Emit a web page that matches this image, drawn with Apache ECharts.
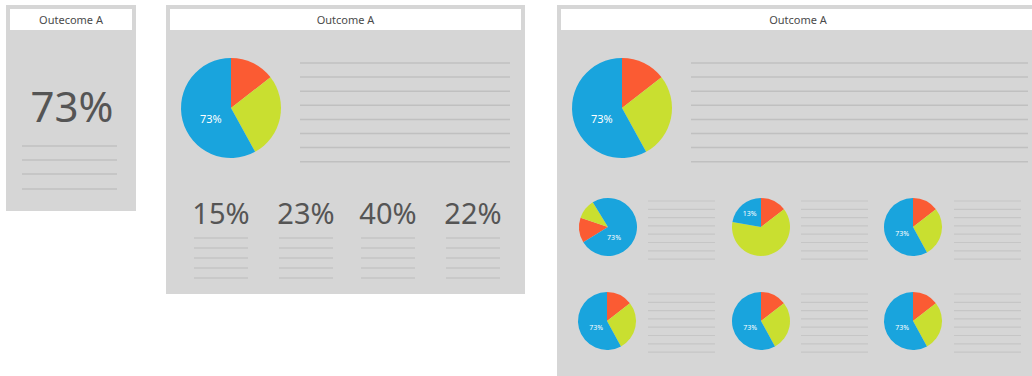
<!DOCTYPE html>
<html><head><meta charset="utf-8">
<script src="https://cdn.jsdelivr.net/npm/echarts@6/dist/echarts.min.js"></script>
<style>html,body{margin:0;padding:0;background:#fff}#c{width:1032px;height:376px}</style>
</head><body><div id="c"></div>
<script>
// ---------- data ----------
const sliceNames = ['Red', 'Yellow', 'Blue'];
const panelTitles = ['Outecome A', 'Outcome A', 'Outcome A'];
const headlineValue = 73;
const breakdownValues = [15, 23, 40, 22];
const mainPieValues = [14.5, 27.5, 58];
const mainPieLabel = '73%';
const smallPieValues = [
  [14, 11, 75],
  [14.6, 63.1, 22.3],
  [14.5, 27.5, 58],
  [14.5, 27.5, 58],
  [14.5, 27.5, 58],
  [14.5, 27.5, 58]
];
const smallPieLabels = ['73%', '13%', '73%', '73%', '73%', '73%'];

// ---------- layout / style ----------
const FONT = 'Noto Sans';
const COLORS = ['#fb5b33', '#c9df30', '#19a4dd'];
const PANEL_BG = '#d6d6d6';
const LINE_C = '#c0c0c0';
const TEXT_C = '#555555';
const panels = [
  {x: 6, y: 5, w: 130, h: 206},
  {x: 166, y: 5, w: 359, h: 289},
  {x: 557, y: 5, w: 482, h: 385}
];
const smallStarts = [211.6, 90, 90, 90, 90, 90];
const smallCenters = [[608, 227], [761, 227], [913, 227], [607, 321], [761, 321], [913, 321]];
const smallLabelOffsets = [[-11, 6], [0, 0], [6, 2], [6, 2], [6, 2], [6, 2]];
const mainLabelOffset = [7, 4];
const smallLineX = [[648, 715], [801, 868], [954, 1021]];
const smallLineY0 = [201, 294];
const breakdownX = [221, 306, 388, 473];

const graphic = [];
function hline(x1, x2, y, color, w) {
  graphic.push({type: 'line', shape: {x1: x1, y1: y, x2: x2, y2: y}, style: {stroke: color || LINE_C, lineWidth: w || 1.5}, silent: true});
}
panels.forEach(function (p, i) {
  graphic.push({type: 'rect', shape: {x: p.x, y: p.y, width: p.w, height: p.h}, style: {fill: PANEL_BG}, silent: true});
  graphic.push({type: 'rect', shape: {x: p.x + 4, y: p.y + 4, width: p.w - 8, height: 21}, style: {fill: '#ffffff'}, silent: true});
  graphic.push({type: 'text', x: p.x + p.w / 2, y: p.y + 14.5, style: {text: panelTitles[i], fill: '#4a4a4a', font: '11px "' + FONT + '"', textAlign: 'center', textVerticalAlign: 'middle'}, silent: true});
});
// panel 1
graphic.push({type: 'text', x: 72, y: 105, style: {text: headlineValue + '%', fill: TEXT_C, font: '42px "' + FONT + '"', textAlign: 'center', textVerticalAlign: 'middle'}, silent: true});
[146, 160, 174, 189].forEach(function (y) { hline(22, 117, y); });
// panel 2
for (let k = 0; k < 8; k++) hline(300, 510, 63 + k * 14.1);
breakdownValues.forEach(function (v, i) {
  const cx = breakdownX[i];
  graphic.push({type: 'text', x: cx, y: 212, style: {text: v + '%', fill: TEXT_C, font: '29px "' + FONT + '"', textAlign: 'center', textVerticalAlign: 'middle'}, silent: true});
  for (let k = 0; k < 5; k++) hline(cx - 27, cx + 27, 238 + k * 10, '#c4c4c4', 1.3);
});
// panel 3
for (let k = 0; k < 8; k++) hline(691, 1028, 63 + k * 14.1);
smallLineY0.forEach(function (y0) {
  smallLineX.forEach(function (xr) {
    for (let k = 0; k < 8; k++) hline(xr[0], xr[1], y0 + k * 8.3, '#c6c6c6', 1.2);
  });
});

function pieData(values, label, fontSize, offset) {
  return values.map(function (v, i) {
    const d = {name: sliceNames[i], value: v, itemStyle: {color: COLORS[i]}};
    if (i === 2) {
      d.label = {show: true, position: 'inside', formatter: label, color: '#ffffff', fontSize: fontSize, fontFamily: FONT, offset: offset};
    }
    return d;
  });
}
function pieSeries(center, r, values, label, fs, start, offset) {
  return {
    type: 'pie', center: center, radius: r, startAngle: start, clockwise: true,
    label: {show: false}, labelLine: {show: false}, silent: true,
    itemStyle: {borderWidth: 0},
    emphasis: {disabled: true},
    data: pieData(values, label, fs, offset)
  };
}
const series = [
  pieSeries([231, 108], 50, mainPieValues, mainPieLabel, 11, 90, mainLabelOffset),
  pieSeries([622, 108], 50, mainPieValues, mainPieLabel, 11, 90, mainLabelOffset)
];
smallPieValues.forEach(function (vals, i) {
  series.push(pieSeries(smallCenters[i], 29, vals, smallPieLabels[i], 7, smallStarts[i], smallLabelOffsets[i]));
});

const chart = echarts.init(document.getElementById('c'), null, {renderer: 'svg'});
chart.setOption({
  animation: false,
  backgroundColor: '#ffffff',
  graphic: graphic,
  series: series
});
</script></body></html>
